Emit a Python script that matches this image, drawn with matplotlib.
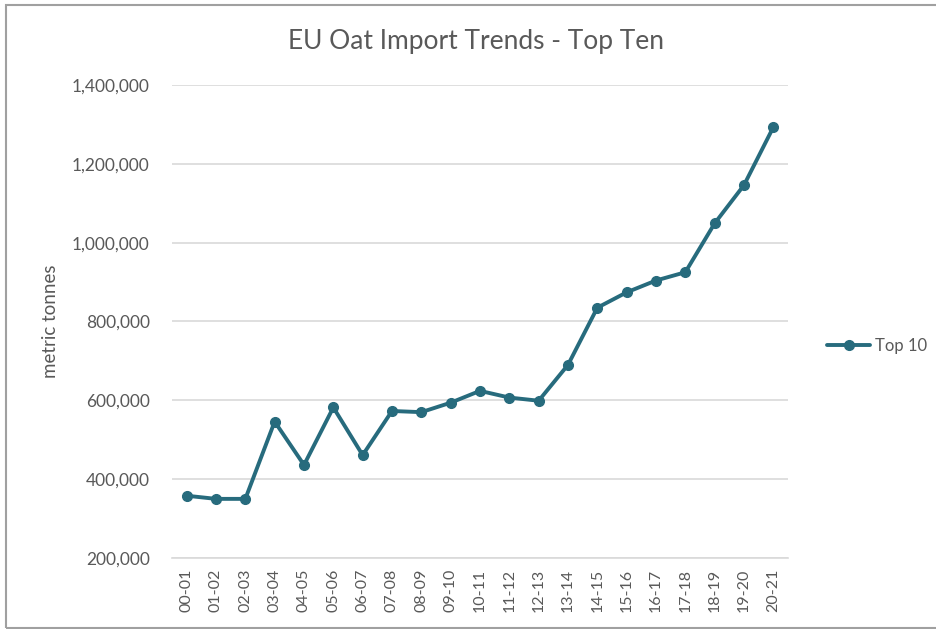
import matplotlib
matplotlib.use("Agg")
import matplotlib.pyplot as plt
from matplotlib.patches import Rectangle
from matplotlib.ticker import FuncFormatter

categories = ["00-01", "01-02", "02-03", "03-04", "04-05", "05-06", "06-07",
              "07-08", "08-09", "09-10", "10-11", "11-12", "12-13", "13-14",
              "14-15", "15-16", "16-17", "17-18", "18-19", "19-20", "20-21"]
top10 = [358000, 350000, 350000, 546000, 436000, 582000, 461000,
         573000, 570000, 594000, 624000, 607000, 599000, 690000,
         835000, 874000, 904000, 925000, 1049000, 1146000, 1293000]
yticks = [200000, 400000, 600000, 800000, 1000000, 1200000, 1400000]

color = "#276B7D"
txt = "#595959"
plt.rcParams['font.family'] = ['Lato', 'DejaVu Sans']

fig = plt.figure(figsize=(9.36, 6.29), dpi=100)
ax = fig.add_axes([172/936, 1-558/629, (788-172)/936, (558-85)/629])

x = list(range(len(categories)))
line, = ax.plot(x, top10, color=color, lw=2.8, marker='o', ms=7,
                solid_capstyle='round', label="Top 10")

ax.set_xlim(-0.5, len(categories) - 0.5)
ax.set_ylim(200000, 1400000)
ax.set_yticks(yticks)
ax.yaxis.set_major_formatter(FuncFormatter(lambda v, p: f"{int(v):,}"))
ax.set_xticks(x)
ax.set_xticklabels(categories, rotation=90)
ax.tick_params(axis='both', length=0, colors=txt)
ax.tick_params(axis='y', pad=16, labelsize=12.5)
ax.tick_params(axis='x', pad=8, labelsize=11.5)
ax.grid(axis='y', color='#D9D9D9', lw=1.2)
ax.set_axisbelow(True)
for s in ['top', 'right', 'left']:
    ax.spines[s].set_visible(False)
ax.spines['bottom'].set_color('#D9D9D9')
ax.spines['bottom'].set_linewidth(1.2)

ax.set_ylabel("metric tonnes", color=txt, fontsize=13.5)
ax.yaxis.set_label_coords(50/936, 0.5, transform=fig.transFigure)
ax.yaxis.label.set_va('center')
ax.yaxis.set_label_coords((50 - 172) / 616, 0.5)

fig.text(476/936, 1-42/629, "EU Oat Import Trends - Top Ten", ha='center', va='center',
         fontsize=19, color=txt)

leg = fig.legend(handles=[line], loc='center left', bbox_to_anchor=(812/936, 1-346/629),
                 frameon=False, fontsize=12, handlelength=2.6, handletextpad=0.3,
                 labelcolor=txt)

fig.patches.append(Rectangle((6/936, 1/629), 1.0, 1-6/629, transform=fig.transFigure,
                             fill=False, edgecolor='#A0A0A0', lw=1.5))

fig.savefig("out.png", dpi=100)
